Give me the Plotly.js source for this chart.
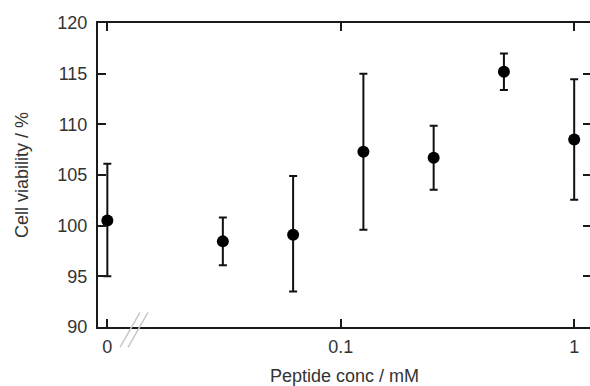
<!DOCTYPE html>
<html>
<head>
<meta charset="utf-8">
<script src="https://cdn.plot.ly/plotly-3.0.1.min.js"></script>
<style>
html,body{margin:0;padding:0;overflow:hidden;background:#fff;}
#chart{width:593px;height:386px;}
</style>
</head>
<body>
<div id="chart"></div>
<script>
// Data (concentration in mM; 0 is drawn at the broken-axis position)
var conc = [0, 0.03125, 0.0625, 0.125, 0.25, 0.5, 1];
var viability = [100.5, 98.45, 99.1, 107.3, 106.7, 115.2, 108.5];
var upperBound = [106.1, 100.8, 104.9, 115.0, 109.85, 117.0, 114.45];
var lowerBound = [95.0, 96.1, 93.5, 99.6, 103.55, 113.4, 102.55];
var xTickVals = [0.01, 0.1, 1];
var xTickText = ['0', '0.1', '1'];
var ZERO_POS = 0.01;

var xPlot = conc.map(function(c){ return c === 0 ? ZERO_POS : c; });
var errPlus = upperBound.map(function(u,i){ return u - viability[i]; });
var errMinus = lowerBound.map(function(l,i){ return viability[i] - l; });

var axisColor = '#1a1a1a';
var textColor = '#333333';
var fontFam = 'Liberation Sans, Arial, sans-serif';

var trace = {
  x: xPlot, y: viability, type: 'scatter', mode: 'markers',
  marker: {color: '#000', size: 12},
  error_y: {type: 'data', symmetric: false, array: errPlus, arrayminus: errMinus,
            color: '#111', thickness: 2, width: 4},
  showlegend: false, hoverinfo: 'skip'
};

var layout = {
  width: 593, height: 386,
  margin: {l: 98, r: 2, t: 23, b: 59},
  paper_bgcolor: '#fff', plot_bgcolor: '#fff',
  font: {family: fontFam, size: 18, color: textColor},
  xaxis: {
    type: 'log', range: [-2.040, 0.072],
    tickvals: xTickVals, ticktext: xTickText,
    ticks: 'inside', ticklen: 8, tickwidth: 2, tickcolor: axisColor,
    showline: true, linewidth: 2, linecolor: axisColor, mirror: 'ticks',
    showgrid: false, zeroline: false,
    ticklabelstandoff: 2,
    tickfont: {family: fontFam, size: 18, color: textColor},
    title: {text: 'Peptide conc / mM', font: {family: fontFam, size: 18, color: textColor}, standoff: 14}
  },
  yaxis: {
    range: [90, 120], dtick: 5, tick0: 90,
    ticks: 'inside', ticklen: 8, tickwidth: 2, tickcolor: axisColor,
    showline: true, linewidth: 2, linecolor: axisColor, mirror: 'ticks',
    showgrid: false, zeroline: false,
    ticklabelstandoff: 5,
    tickfont: {family: fontFam, size: 18, color: textColor},
    title: {text: 'Cell viability / %', font: {family: fontFam, size: 18, color: textColor}, standoff: 24}
  },
  shapes: [
    {type: 'line', xref: 'paper', yref: 'paper', x0: 0.0446, y0: -0.067, x1: 0.0852, y1: 0.0485,
     line: {color: '#c8c8c8', width: 1.5}},
    {type: 'line', xref: 'paper', yref: 'paper', x0: 0.0609, y0: -0.067, x1: 0.1014, y1: 0.0485,
     line: {color: '#c8c8c8', width: 1.5}}
  ]
};

Plotly.newPlot('chart', [trace], layout, {displayModeBar: false, staticPlot: true});
</script>
</body>
</html>
